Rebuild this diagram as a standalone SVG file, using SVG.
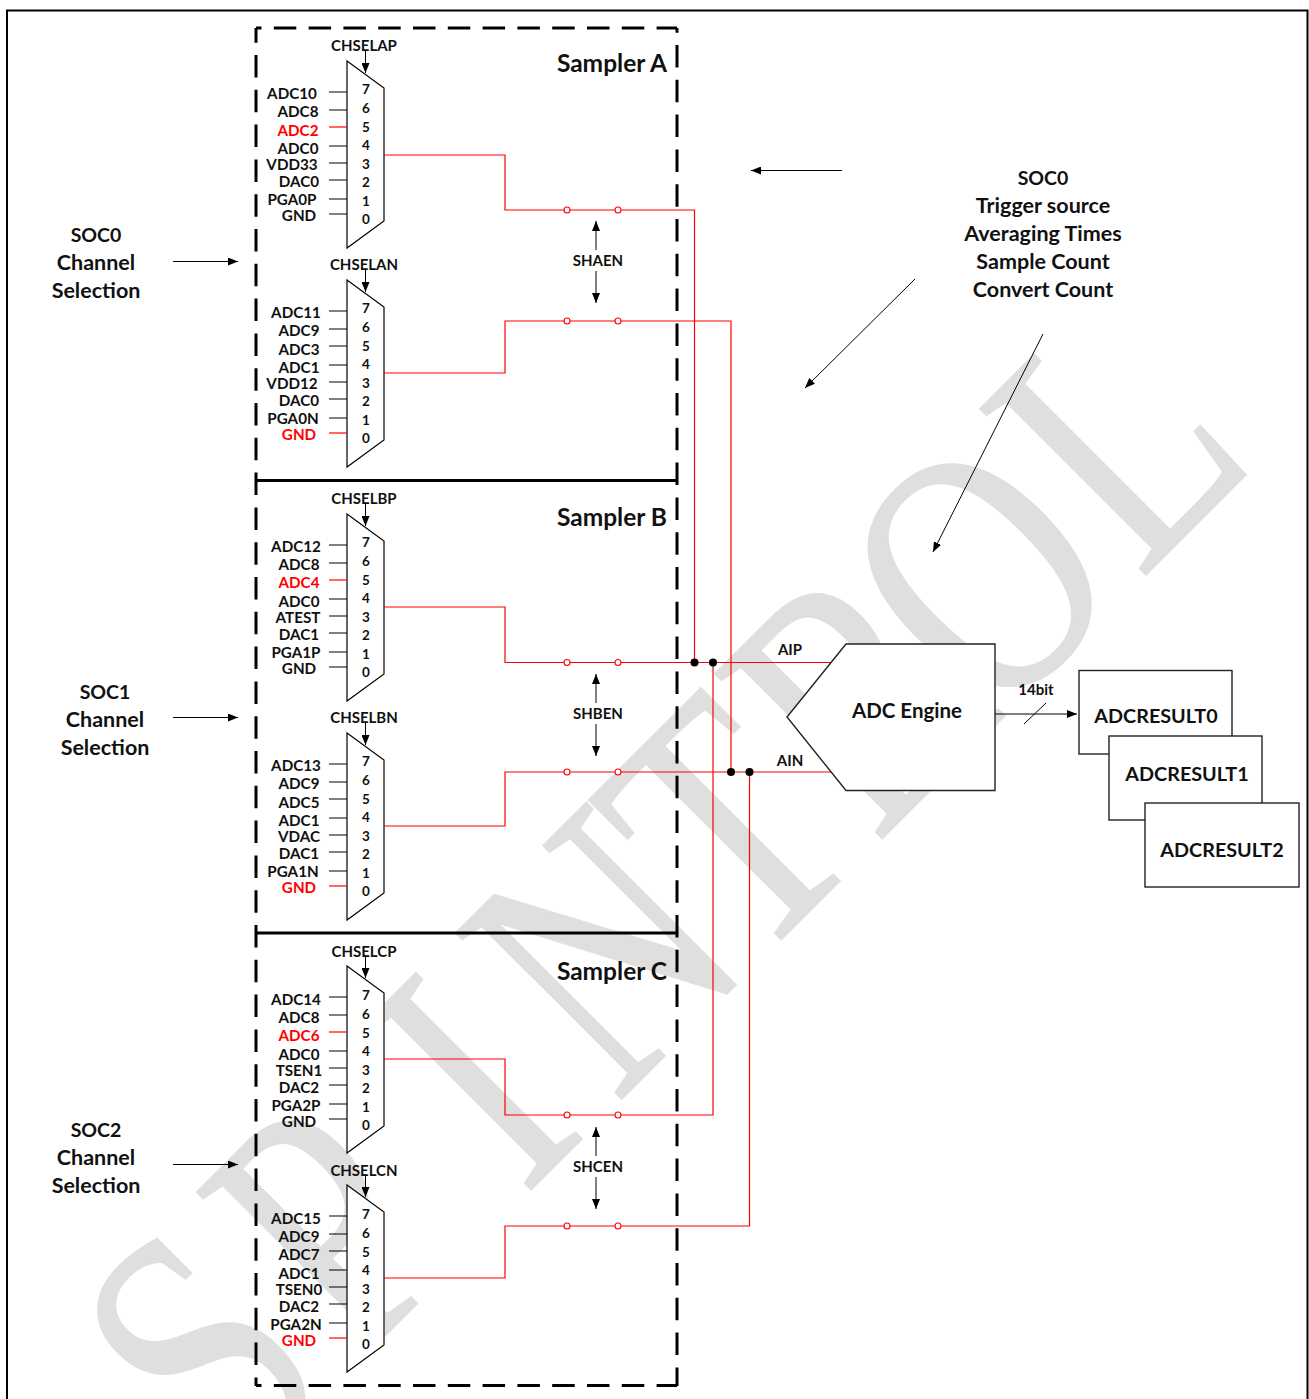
<svg xmlns="http://www.w3.org/2000/svg" width="1309" height="1399" viewBox="0 0 1309 1399">
<style>
text{font-family:"Lato","Open Sans","Liberation Sans",sans-serif;font-weight:700;fill:#111;text-anchor:middle}
.l{font-size:15.2px}.r{fill:#f00}.n{font-size:13.5px}.c{font-size:15px}.s{font-size:21.5px}.t{font-size:19.5px}.b{font-size:20.5px}.q{font-size:19.8px}.h{font-size:24.5px}
.wm{font-family:"Liberation Serif",serif;font-weight:400;font-size:359px;fill:#dfdfdf;stroke:#dfdfdf;stroke-width:1.5;text-anchor:start}
.k{fill:none;stroke:#000;stroke-width:1}.a{fill:none;stroke:#000;stroke-width:1;marker-end:url(#ah)}
.red{fill:none;stroke:#f00;stroke-width:1.2}.o{fill:#fff;stroke:#f00;stroke-width:1.1}.j{fill:#000}
.d{fill:none;stroke:#000;stroke-width:3;stroke-dasharray:22.5 12.3}
.m{fill:#fff;stroke:#000;stroke-width:1.2}.box{fill:#fff;stroke:#222;stroke-width:1.4}
</style>
<defs>
<marker id="ah" viewBox="0 0 10 8" refX="10" refY="4" markerWidth="10" markerHeight="8" markerUnits="userSpaceOnUse" orient="auto"><path d="M0 0L10 4L0 8z" fill="#000"/></marker>
<g id="mux"><path class="m" d="M347 61L384 88V221L347 248z"/><path d="M384 88V221" stroke="#666" stroke-width="1.5"/><path class="a" d="M365.500 50V73"/></g>
<path id="pins5" class="k" d="M329 92H347M329 110H347M329 146H347M329 163H347M329 180H347M329 199H347M329 214H347"/>
<path id="pins0" class="k" d="M329 92H347M329 110H347M329 127H347M329 146H347M329 163H347M329 180H347M329 199H347"/>
</defs>
<rect width="1309" height="1399" fill="#fff"/>
<text id="watermark" class="wm" transform="translate(860.5,860.5) rotate(-45) scale(.77,1)" x="-1158 -925 -618 -449 -201 27 242 514" y="0">SPINTROL</text>
<path id="frame" d="M7 1399V10.500H1307.500V1399" fill="none" stroke="#000" stroke-width="2"/>

<g id="sampler-frame">
<path class="d" stroke-dashoffset="17" d="M256 28H677"/>
<path class="d" stroke-dashoffset="7.8" d="M256 28V1386"/>
<path class="d" stroke-dashoffset="17.8" d="M677 28V1386"/>
<path class="d" stroke-dashoffset="17" d="M256 1385.500H677"/>
<path d="M256 480.500H677M256 933H677" stroke="#000" stroke-width="3"/>
<text class="h" x="667" y="72" style="text-anchor:end">Sampler A</text>
<text class="h" x="667" y="526" style="text-anchor:end">Sampler B</text>
<text class="h" x="667" y="980" style="text-anchor:end">Sampler C</text>
</g>

<g id="mux-ap"><use href="#mux"/><use href="#pins5"/><path class="red" d="M329 127H347"/>
<text class="c" x="364" y="51">CHSELAP</text>
<text class="l" x="292" y="99">ADC10</text><text class="l" x="298" y="117">ADC8</text><text class="l r" x="298" y="136">ADC2</text><text class="l" x="298" y="154">ADC0</text><text class="l" x="292" y="170">VDD33</text><text class="l" x="299" y="187">DAC0</text><text class="l" x="292" y="205">PGA0P</text><text class="l" x="299" y="221">GND</text>
<text class="n" x="366" y="94">7</text><text class="n" x="366" y="113">6</text><text class="n" x="366" y="132">5</text><text class="n" x="366" y="150">4</text><text class="n" x="366" y="169">3</text><text class="n" x="366" y="187">2</text><text class="n" x="366" y="206">1</text><text class="n" x="366" y="224">0</text></g>

<g id="mux-an" transform="translate(0,219)"><use href="#mux"/><use href="#pins0"/><path class="red" d="M329 214H347"/>
<text class="c" x="364" y="51">CHSELAN</text>
<text class="l" x="296" y="99">ADC11</text><text class="l" x="299" y="117">ADC9</text><text class="l" x="299" y="136">ADC3</text><text class="l" x="299" y="154">ADC1</text><text class="l" x="292" y="170">VDD12</text><text class="l" x="299" y="187">DAC0</text><text class="l" x="293" y="205">PGA0N</text><text class="l r" x="299" y="221">GND</text>
<text class="n" x="366" y="94">7</text><text class="n" x="366" y="113">6</text><text class="n" x="366" y="132">5</text><text class="n" x="366" y="150">4</text><text class="n" x="366" y="169">3</text><text class="n" x="366" y="187">2</text><text class="n" x="366" y="206">1</text><text class="n" x="366" y="224">0</text></g>

<g id="mux-bp" transform="translate(0,453)"><use href="#mux"/><use href="#pins5"/><path class="red" d="M329 127H347"/>
<text class="c" x="364" y="51">CHSELBP</text>
<text class="l" x="296" y="99">ADC12</text><text class="l" x="299" y="117">ADC8</text><text class="l r" x="299" y="135">ADC4</text><text class="l" x="299" y="154">ADC0</text><text class="l" x="298" y="170">ATEST</text><text class="l" x="299" y="187">DAC1</text><text class="l" x="296" y="205">PGA1P</text><text class="l" x="299" y="221">GND</text>
<text class="n" x="366" y="94">7</text><text class="n" x="366" y="113">6</text><text class="n" x="366" y="132">5</text><text class="n" x="366" y="150">4</text><text class="n" x="366" y="169">3</text><text class="n" x="366" y="187">2</text><text class="n" x="366" y="206">1</text><text class="n" x="366" y="224">0</text></g>

<g id="mux-bn" transform="translate(0,672)"><use href="#mux"/><use href="#pins0"/><path class="red" d="M329 214H347"/>
<text class="c" x="364" y="51">CHSELBN</text>
<text class="l" x="296" y="99">ADC13</text><text class="l" x="299" y="117">ADC9</text><text class="l" x="299" y="136">ADC5</text><text class="l" x="299" y="154">ADC1</text><text class="l" x="299" y="170">VDAC</text><text class="l" x="299" y="187">DAC1</text><text class="l" x="293" y="205">PGA1N</text><text class="l r" x="299" y="221">GND</text>
<text class="n" x="366" y="94">7</text><text class="n" x="366" y="113">6</text><text class="n" x="366" y="132">5</text><text class="n" x="366" y="150">4</text><text class="n" x="366" y="169">3</text><text class="n" x="366" y="187">2</text><text class="n" x="366" y="206">1</text><text class="n" x="366" y="224">0</text></g>

<g id="mux-cp" transform="translate(0,905)"><use href="#mux"/><use href="#pins5"/><path class="red" d="M329 127H347"/>
<g transform="translate(0,1)"><text class="c" x="364" y="51">CHSELCP</text>
<text class="l" x="296" y="99">ADC14</text><text class="l" x="299" y="117">ADC8</text><text class="l r" x="299" y="135">ADC6</text><text class="l" x="299" y="154">ADC0</text><text class="l" x="299" y="170">TSEN1</text><text class="l" x="299" y="187">DAC2</text><text class="l" x="296" y="205">PGA2P</text><text class="l" x="299" y="221">GND</text>
<text class="n" x="366" y="94">7</text><text class="n" x="366" y="113">6</text><text class="n" x="366" y="132">5</text><text class="n" x="366" y="150">4</text><text class="n" x="366" y="169">3</text><text class="n" x="366" y="187">2</text><text class="n" x="366" y="206">1</text><text class="n" x="366" y="224">0</text></g></g>

<g id="mux-cn" transform="translate(0,1124)"><use href="#mux"/><use href="#pins0"/><path class="red" d="M329 214H347"/>
<g transform="translate(0,1)"><text class="c" x="364" y="51">CHSELCN</text>
<text class="l" x="296" y="99">ADC15</text><text class="l" x="299" y="117">ADC9</text><text class="l" x="299" y="135">ADC7</text><text class="l" x="299" y="154">ADC1</text><text class="l" x="299" y="170">TSEN0</text><text class="l" x="299" y="187">DAC2</text><text class="l" x="296" y="205">PGA2N</text><text class="l r" x="299" y="221">GND</text>
<text class="n" x="366" y="94">7</text><text class="n" x="366" y="113">6</text><text class="n" x="366" y="132">5</text><text class="n" x="366" y="150">4</text><text class="n" x="366" y="169">3</text><text class="n" x="366" y="187">2</text><text class="n" x="366" y="206">1</text><text class="n" x="366" y="224">0</text></g></g>

<g id="connectors">
<path class="red" d="M384 155H505V210H694.500V662"/>
<path class="red" d="M384 373H505V321H731V772"/>
<path class="red" d="M384 607H505V662.500H832"/>
<path class="red" d="M384 826H505V772H832"/>
<path class="red" d="M384 1059H505V1115H713V662"/>
<path class="red" d="M384 1278H505V1226H749.500V772"/>
<g class="o"><circle cx="567" cy="210" r="3"/><circle cx="618" cy="210" r="3"/><circle cx="567" cy="321" r="3"/><circle cx="618" cy="321" r="3"/><circle cx="567" cy="662.500" r="3"/><circle cx="618" cy="662.500" r="3"/><circle cx="567" cy="772" r="3"/><circle cx="618" cy="772" r="3"/><circle cx="567" cy="1115" r="3"/><circle cx="618" cy="1115" r="3"/><circle cx="567" cy="1226" r="3"/><circle cx="618" cy="1226" r="3"/></g>
<g class="j"><circle cx="694.500" cy="662.500" r="4"/><circle cx="713" cy="662.500" r="4"/><circle cx="731" cy="772" r="4"/><circle cx="749.500" cy="772" r="4"/></g>
<path class="a" d="M596 250V221"/><path class="a" d="M596 271V303"/>
<path class="a" d="M596 703V674"/><path class="a" d="M596 724V756"/>
<path class="a" d="M596 1156V1127"/><path class="a" d="M596 1177V1209"/>
<path class="a" d="M173 261.500H238"/><path class="a" d="M173 717.500H238"/><path class="a" d="M173 1164.500H238"/>
<path class="a" d="M842 170.500H751"/><path class="a" d="M915 279L805 388"/><path class="a" d="M1043 334L933 552"/>
<path class="a" d="M995 714H1077"/><path class="k" d="M1024 724L1046 703"/>
</g>
<g id="shen-labels"><text class="c" x="598" y="266">SHAEN</text><text class="c" x="598" y="719">SHBEN</text><text class="c" x="598" y="1172">SHCEN</text></g>

<g id="soc0-sel"><text class="t" x="96" y="242">SOC0</text><text class="s" x="96" y="270">Channel</text><text class="s" x="96" y="298">Selection</text></g>
<g id="soc1-sel"><text class="t" x="105" y="699">SOC1</text><text class="s" x="105" y="727">Channel</text><text class="s" x="105" y="755">Selection</text></g>
<g id="soc2-sel"><text class="t" x="96" y="1137">SOC2</text><text class="s" x="96" y="1165">Channel</text><text class="s" x="96" y="1193">Selection</text></g>
<g id="soc0-config"><text class="t" x="1043" y="185">SOC0</text><text class="s" x="1043" y="213">Trigger source</text><text class="s" x="1043" y="241">Averaging Times</text><text class="s" x="1043" y="269">Sample Count</text><text class="s" x="1043" y="297">Convert Count</text></g>

<g id="adc-engine"><path class="box" d="M846 644H995V790.500H846L787 717z"/><text class="b" x="907" y="718">ADC Engine</text></g>
<text class="c" x="790" y="655">AIP</text><text class="c" x="790" y="766">AIN</text><text class="c" x="1036" y="695">14bit</text>
<g id="result0"><rect class="box" x="1079" y="670.500" width="153" height="83.500"/><text class="q" x="1156" y="723">ADCRESULT0</text></g>
<g id="result1"><rect class="box" x="1109" y="736" width="153" height="84"/><text class="q" x="1187" y="781">ADCRESULT1</text></g>
<g id="result2"><rect class="box" x="1145" y="803" width="154" height="84"/><text class="q" x="1222" y="857">ADCRESULT2</text></g>
</svg>
